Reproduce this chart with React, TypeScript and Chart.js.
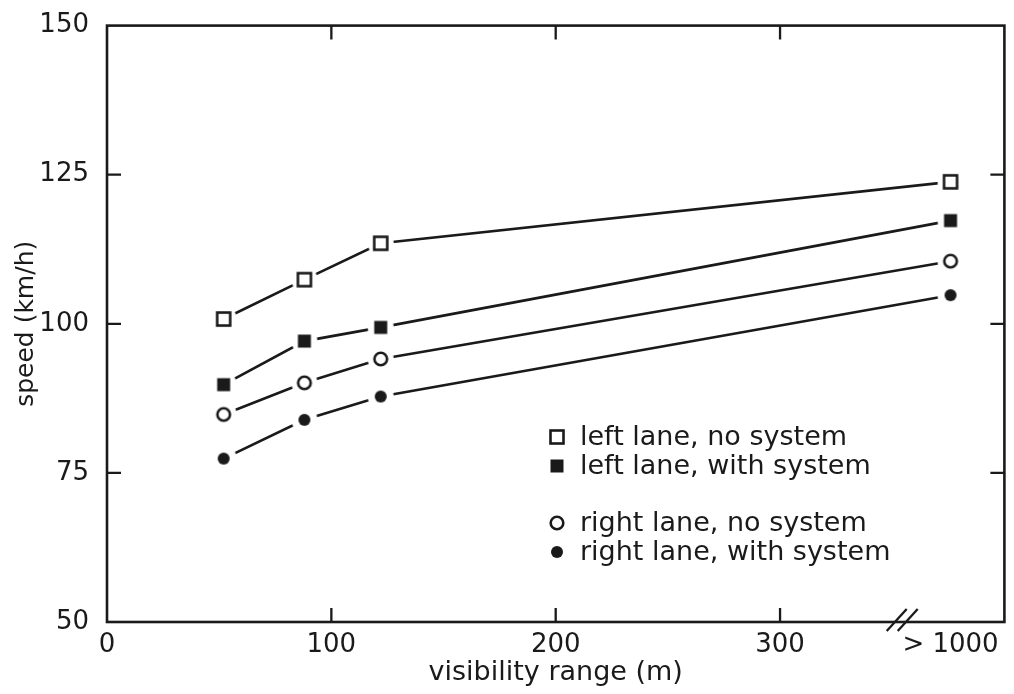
import React, { useEffect, useRef } from "react";
import { Chart, registerables } from "chart.js";

Chart.register(...registerables);

// ---- data ----
const xValues = [52, 88, 122, 376];
const leftNoSystem = [100.8, 107.4, 113.5, 123.8];
const leftWithSystem = [89.8, 97.1, 99.4, 117.3];
const rightNoSystem = [84.8, 90.1, 94.1, 110.5];
const rightWithSystem = [77.4, 83.9, 87.8, 104.8];

const seriesLabels = [
  "left lane, no system",
  "left lane, with system",
  "right lane, no system",
  "right lane, with system",
];
const xTickValues = [0, 100, 200, 300, 376];
const xTickLabels = ["0", "100", "200", "300", "> 1000"];
const yTickValues = [50, 75, 100, 125, 150];
const yTickLabels = ["50", "75", "100", "125", "150"];
const innerTickX = [100, 200, 300];
const innerTickY = [75, 100, 125];
const axisBreakAt = 352;

const INK = "#1a1a1a";
const FONT = "DejaVu Sans";

type Kind = "square" | "circle";

function drawMarker(ctx: CanvasRenderingContext2D, cx: number, cy: number, kind: Kind, filled: boolean) {
  ctx.save();
  ctx.strokeStyle = INK;
  ctx.fillStyle = INK;
  ctx.lineWidth = 2.6;
  if (kind === "square") {
    if (filled) {
      ctx.fillRect(cx - 6.5, cy - 6.5, 13, 13);
    } else {
      ctx.fillStyle = "#fff";
      ctx.fillRect(cx - 6.5, cy - 6.5, 13, 13);
      ctx.strokeRect(cx - 6.5, cy - 6.5, 13, 13);
    }
  } else {
    ctx.beginPath();
    if (filled) {
      ctx.arc(cx, cy, 6, 0, Math.PI * 2);
      ctx.fill();
    } else {
      ctx.arc(cx, cy, 6.3, 0, Math.PI * 2);
      ctx.fillStyle = "#fff";
      ctx.fill();
      ctx.stroke();
    }
  }
  ctx.restore();
}

function makeMarkerImage(kind: Kind, filled: boolean): HTMLCanvasElement {
  const S = 30;
  const c = document.createElement("canvas");
  c.width = S;
  c.height = S;
  const ctx = c.getContext("2d")!;
  ctx.fillStyle = "#fff";
  ctx.beginPath();
  ctx.arc(S / 2, S / 2, 13, 0, Math.PI * 2);
  ctx.fill();
  drawMarker(ctx, S / 2, S / 2, kind, filled);
  return c;
}

const markerKinds: { kind: Kind; filled: boolean }[] = [
  { kind: "square", filled: false },
  { kind: "square", filled: true },
  { kind: "circle", filled: false },
  { kind: "circle", filled: true },
];

const framePlugin = {
  id: "frameAndLegend",
  afterDraw(chart: any) {
    const { ctx, chartArea } = chart;
    const xs = chart.scales.x;
    const ys = chart.scales.y;
    const { left, right, top, bottom } = chartArea;
    ctx.save();
    ctx.strokeStyle = INK;
    ctx.lineWidth = 2.6;
    ctx.strokeRect(left, top, right - left, bottom - top);
    const TL = 14;
    ctx.lineWidth = 2.3;
    ctx.beginPath();
    innerTickX.forEach((v) => {
      const px = xs.getPixelForValue(v);
      ctx.moveTo(px, bottom);
      ctx.lineTo(px, bottom - TL);
      ctx.moveTo(px, top);
      ctx.lineTo(px, top + TL);
    });
    innerTickY.forEach((v) => {
      const py = ys.getPixelForValue(v);
      ctx.moveTo(left, py);
      ctx.lineTo(left + TL, py);
      ctx.moveTo(right, py);
      ctx.lineTo(right - TL, py);
    });
    ctx.stroke();
    // axis break
    const bx = xs.getPixelForValue(axisBreakAt);
    ctx.beginPath();
    [0, 11].forEach((o) => {
      ctx.moveTo(bx - 10 + o, bottom + 9);
      ctx.lineTo(bx + 10 + o, bottom - 13);
    });
    ctx.stroke();

    // legend
    const legendX = 557;
    const textX = 580;
    const rowsY = [437, 466, 523, 552];
    ctx.font = `27px "${FONT}"`;
    ctx.textBaseline = "middle";
    ctx.textAlign = "left";
    seriesLabels.forEach((lab, i) => {
      drawMarker(ctx, legendX, rowsY[i], markerKinds[i].kind, markerKinds[i].filled);
      ctx.fillStyle = INK;
      ctx.fillText(lab, textX, rowsY[i] + 1);
    });
    ctx.restore();
  },
};

export default function App() {
  const ref = useRef<HTMLCanvasElement | null>(null);
  useEffect(() => {
    if (!ref.current) return;
    const seriesData = [leftNoSystem, leftWithSystem, rightNoSystem, rightWithSystem];
    const chart = new Chart(ref.current, {
      type: "line",
      data: {
        datasets: seriesData.map((vals, i) => ({
          label: seriesLabels[i],
          data: vals.map((y, j) => ({ x: xValues[j], y })),
          borderColor: INK,
          borderWidth: 2.6,
          pointStyle: makeMarkerImage(markerKinds[i].kind, markerKinds[i].filled),
          pointRadius: 7,
          tension: 0,
          fill: false,
        })),
      },
      options: {
        animation: false,
        responsive: false,
        layout: { padding: { top: 21, right: 7, left: 0, bottom: 0 } },
        plugins: { legend: { display: false }, tooltip: { enabled: false } },
        scales: {
          x: {
            type: "linear",
            min: 0,
            max: 400,
            afterBuildTicks: (scale: any) => {
              scale.ticks = xTickValues.map((v) => ({ value: v }));
            },
            afterFit: (scale: any) => {
              scale.height = 72;
            },
            ticks: {
              color: INK,
              font: { family: FONT, size: 26 },
              padding: 0,
              maxRotation: 0,
              autoSkip: false,
              callback: (_v: any, i: number) => xTickLabels[i],
            },
            grid: { display: false },
            border: { display: false },
            title: {
              display: true,
              text: "visibility range (m)",
              color: INK,
              font: { family: FONT, size: 27 },
              padding: { top: 0, bottom: 5 },
            },
          },
          y: {
            type: "linear",
            min: 50,
            max: 150,
            afterBuildTicks: (scale: any) => {
              scale.ticks = yTickValues.map((v) => ({ value: v }));
            },
            afterFit: (scale: any) => {
              scale.width = 107;
            },
            ticks: {
              color: INK,
              font: { family: FONT, size: 26 },
              padding: 10,
              callback: (_v: any, i: number) => yTickLabels[i],
            },
            grid: { display: false },
            border: { display: false },
            title: {
              display: true,
              text: "speed (km/h)",
              color: INK,
              font: { family: FONT, size: 25 },
              padding: { top: 11, bottom: 0 },
            },
          },
        },
      },
      plugins: [framePlugin],
    });
    return () => chart.destroy();
  }, []);
  return (
    <div style={{ position: "fixed", left: 0, top: 0, width: 1014, height: 694, background: "#fff" }}>
      <canvas ref={ref} width={1014} height={694} style={{ display: "block" }} />
    </div>
  );
}
